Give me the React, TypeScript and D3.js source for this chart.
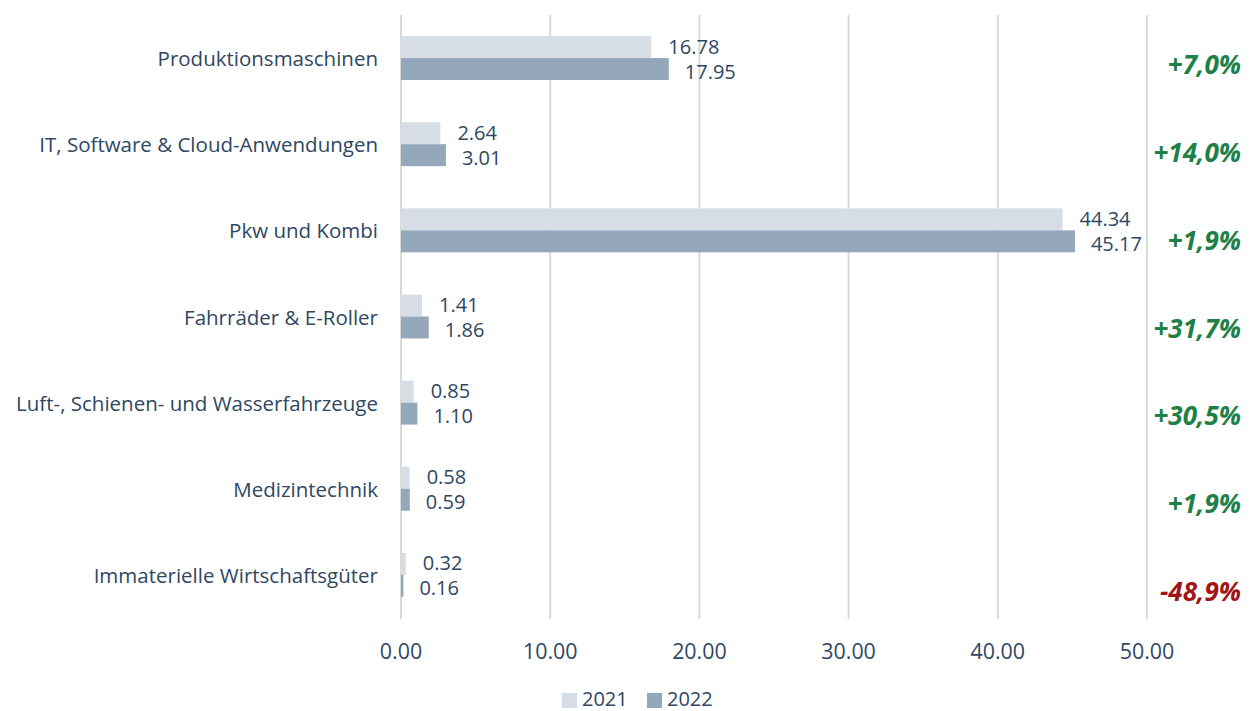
import React from "react";
import * as d3 from "d3";

const categories = [
  "Produktionsmaschinen",
  "IT, Software & Cloud-Anwendungen",
  "Pkw und Kombi",
  "Fahrräder & E-Roller",
  "Luft-, Schienen- und Wasserfahrzeuge",
  "Medizintechnik",
  "Immaterielle Wirtschaftsgüter",
];
const values2021 = [16.78, 2.64, 44.34, 1.41, 0.85, 0.58, 0.32];
const values2022 = [17.95, 3.01, 45.17, 1.86, 1.1, 0.59, 0.16];
const changes = ["+7,0%", "+14,0%", "+1,9%", "+31,7%", "+30,5%", "+1,9%", "-48,9%"];
const xTicks = [0, 10, 20, 30, 40, 50];
const seriesNames = ["2021", "2022"];

const W = 1251;
const H = 711;
const FONT = "'Open Sans', sans-serif";
const TEXT = "#2f4763";
const C2021 = "#d6dde5";
const C2022 = "#95a8bb";
const GREEN = "#1d8045";
const RED = "#a31414";

export default function App() {
  const x = d3.scaleLinear().domain([0, 50]).range([401, 1147]);
  const y = d3.scaleBand<string>().domain(categories).range([15, 618]).paddingInner(0.49).paddingOuter(0.245);
  const bw = y.bandwidth() / 2;
  const pctY = d3.scalePoint<string>().domain(categories).range([64, 591]);

  return (
    <svg width={W} height={H} style={{ position: "absolute", left: 0, top: 0, background: "#fff" }} fontFamily={FONT}>
      {xTicks.map((t) => (
        <line key={t} x1={x(t)} x2={x(t)} y1={15} y2={619} stroke="#d9d9d9" strokeWidth={2} />
      ))}
      {categories.map((c, i) => {
        const y0 = y(c)!;
        const mid = y0 + bw;
        return (
          <g key={c}>
            <rect x={x(0)} y={y0} width={x(values2021[i]) - x(0)} height={bw} fill={C2021} />
            <rect x={x(0)} y={mid} width={x(values2022[i]) - x(0)} height={bw} fill={C2022} />
            <text x={x(values2021[i]) + 17} y={y0 + bw / 2 - 1} dominantBaseline="central" fontSize={20} fill={TEXT}>
              {values2021[i].toFixed(2)}
            </text>
            <text x={x(values2022[i]) + 16} y={mid + bw / 2 + 2} dominantBaseline="central" fontSize={20} fill={TEXT}>
              {values2022[i].toFixed(2)}
            </text>
            <text x={378} y={mid} textAnchor="end" dominantBaseline="central" fontSize={20.5} fill={TEXT}>
              {c}
            </text>
            <text
              x={1241}
              y={pctY(c)!}
              textAnchor="end"
              dominantBaseline="central"
              fontSize={26}
              fontWeight="bold"
              fontStyle="italic"
              fill={changes[i].startsWith("-") ? RED : GREEN}
            >
              {changes[i]}
            </text>
          </g>
        );
      })}
      {xTicks.map((t) => (
        <text key={t} x={x(t)} y={650} textAnchor="middle" dominantBaseline="central" fontSize={21.4} fill={TEXT}>
          {t.toFixed(2)}
        </text>
      ))}
      {seriesNames.map((s, i) => (
        <g key={s} transform={`translate(${562 + i * 85},0)`}>
          <rect x={0} y={693} width={15} height={15} fill={i === 0 ? C2021 : C2022} />
          <text x={20} y={698} dominantBaseline="central" fontSize={20} fill={TEXT}>
            {s}
          </text>
        </g>
      ))}
    </svg>
  );
}
